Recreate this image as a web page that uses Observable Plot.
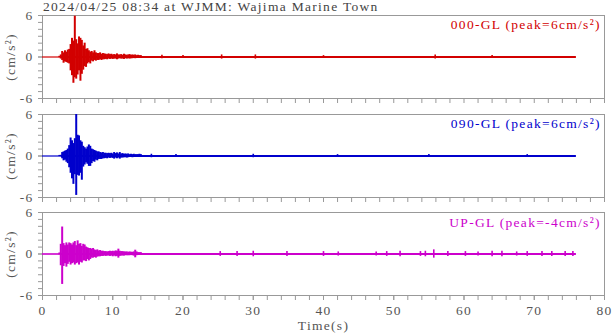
<!DOCTYPE html>
<html><head><meta charset="utf-8">
<script src="https://cdn.jsdelivr.net/npm/d3@7"></script>
<script src="https://cdn.jsdelivr.net/npm/@observablehq/plot@0.6"></script>
<style>
html,body{margin:0;padding:0;background:#fff;}
#chart{position:relative;width:612px;height:334px;overflow:hidden;}
#chart svg{position:absolute;left:0;top:0;}
</style></head><body><div id="chart"></div>
<script>
// ---- data ----
const title = "2024/04/25 08:34 at WJMM: Wajima Marine Town";
const componentNames = ["000-GL", "090-GL", "UP-GL"];
const peakValues = [6, 6, -4];
const seriesColors = ["#d20000", "#0000cc", "#cc00cc"];
const yTickLabels = [-6, 0, 6];
const xTickLabels = [0, 10, 20, 30, 40, 50, 60, 70, 80];
const xLabel = "Time(s)";
const yLabel = "(cm/s²)";
const recordEnd = 76;
const onsets = [2.6, 2.7, 2.5];
// envelope bins (max / min per 0.2 s) from t = 2.4 s to 14.0 s
const binStart = 2.4, binStep = 0.2;
const hi000 = [0.1,0.3,0.8,0.6,0.9,0.7,1.0,1.1,1.8,2.7,2.3,5.9,2.5,1.9,2.9,2.7,2.4,1.6,2.0,1.1,1.2,0.9,0.7,0.8,0.6,0.9,0.6,0.5,0.5,0.6,0.4,0.5,0.45,0.4,0.35,0.45,0.35,0.4,0.3,0.35,0.3,0.45,0.3,0.3,0.35,0.25,0.4,0.3,0.25,0.3,0.35,0.25,0.3,0.25,0.3,0.2,0.25,0.2,0.2];
const lo000 = [-0.1,-0.3,-0.5,-0.9,-0.7,-0.8,-0.9,-1.0,-2.0,-2.7,-3.8,-3.0,-3.2,-2.6,-2.0,-3.5,-2.5,-1.9,-1.4,-1.5,-1.0,-0.8,-1.0,-0.6,-0.7,-0.5,-0.6,-0.5,-0.5,-0.4,-0.5,-0.4,-0.4,-0.35,-0.4,-0.3,-0.35,-0.3,-0.35,-0.3,-0.3,-0.4,-0.3,-0.25,-0.3,-0.3,-0.35,-0.25,-0.3,-0.25,-0.3,-0.25,-0.25,-0.2,-0.25,-0.2,-0.2,-0.2,-0.2];
const hi090 = [0.08,0.1,0.5,0.6,0.7,0.8,1.0,1.5,2.6,2.2,1.8,2.5,6.0,3.0,2.9,2.2,2.0,1.4,1.2,1.0,1.3,1.6,1.4,1.0,0.9,0.8,0.7,0.6,0.6,0.5,0.45,0.5,0.4,0.4,0.35,0.4,0.35,0.4,0.3,0.5,0.35,0.45,0.3,0.5,0.3,0.35,0.25,0.3,0.25,0.3,0.2,0.25,0.2,0.25,0.2,0.2,0.2,0.25,0.2];
const lo090 = [-0.08,-0.1,-0.4,-0.7,-0.6,-0.9,-1.1,-1.7,-2.5,-3.3,-4.1,-2.7,-5.7,-2.8,-2.9,-2.5,-3.5,-1.6,-1.3,-1.0,-1.2,-1.5,-1.5,-1.1,-0.8,-0.9,-0.6,-0.7,-0.5,-0.5,-0.5,-0.4,-0.4,-0.35,-0.4,-0.3,-0.35,-0.3,-0.35,-0.45,-0.3,-0.4,-0.3,-0.45,-0.3,-0.3,-0.25,-0.25,-0.3,-0.25,-0.2,-0.2,-0.25,-0.2,-0.2,-0.2,-0.2,-0.2,-0.2];
const hiUP = [0.15,1.4,3.9,1.5,1.2,1.6,1.3,1.6,1.5,1.3,1.6,1.8,1.2,1.9,1.4,1.5,1.1,1.4,1.3,1.0,0.9,0.8,0.8,0.7,0.8,0.6,0.5,0.6,0.45,0.5,0.4,0.4,0.35,0.35,0.3,0.35,0.4,0.35,0.4,0.35,0.45,0.4,0.7,0.4,0.35,0.35,0.3,0.3,0.3,0.25,0.3,0.25,0.25,0.3,0.55,0.3,0.2,0.2,0.2];
const loUP = [-0.15,-1.7,-4.4,-1.8,-1.4,-1.9,-1.5,-1.2,-1.6,-1.4,-1.3,-1.6,-1.4,-1.3,-1.6,-1.2,-1.3,-1.0,-1.0,-1.1,-0.8,-1.0,-0.8,-0.6,-0.6,-0.5,-0.6,-0.45,-0.4,-0.4,-0.35,-0.35,-0.3,-0.35,-0.3,-0.3,-0.35,-0.3,-0.4,-0.3,-0.4,-0.35,-0.6,-0.35,-0.3,-0.3,-0.3,-0.25,-0.25,-0.25,-0.25,-0.2,-0.25,-0.3,-0.55,-0.25,-0.2,-0.2,-0.2];
// small bursts in the coda (time s, half amplitude)
const burstT000 = [17, 20, 25.5, 30.3, 40, 55.9, 64];
const burstA000 = [0.25, 0.2, 0.3, 0.3, 0.2, 0.3, 0.2];
const burstT090 = [15.5, 19, 30, 42, 55, 69];
const burstA090 = [0.25, 0.2, 0.25, 0.2, 0.2, 0.2];
const burstTUP = [25.3, 27.7, 30, 34.8, 40, 42.1, 47.5, 49, 50.9, 53.8, 54.5, 55.7, 57.7, 60.2, 62, 64, 65.4, 67.5, 69, 71.1, 72.5, 74.4, 75.5];
const burstAUP = [0.35, 0.35, 0.4, 0.35, 0.35, 0.3, 0.3, 0.35, 0.4, 0.35, 0.4, 0.6, 0.35, 0.35, 0.3, 0.4, 0.4, 0.3, 0.35, 0.35, 0.35, 0.35, 0.35];

// ---- build tables ----
const envHi = [hi000, hi090, hiUP], envLo = [lo000, lo090, loUP];
const burstT = [burstT000, burstT090, burstTUP], burstA = [burstA000, burstA090, burstAUP];
function envTable(i) {
  return envHi[i].map((h, k) => ({t: binStart + k * binStep, hi: h, lo: envLo[i][k]}));
}
function burstTable(i) {
  return burstT[i].map((t, k) => ({t, a: burstA[i][k]}));
}

// ---- layout ----
const W = 612, H = 334;
const panelTop = [15, 114, 212], panelBottom = [98, 197, 295];
const labelDy = [8.7, 9.2, 9.7];
const textColor = "#555", frameColor = "#999";
const fontSize = 13.5;

const chart = document.getElementById("chart");
for (let i = 0; i < 3; i++) {
  const color = seriesColors[i];
  const last = i === 2;
  const marks = [
    Plot.frame({stroke: frameColor}),
    Plot.axisY(d3.range(-6, 7, 1), {tickSize: 4, fill: "none", label: null, stroke: frameColor}),
    Plot.axisY(yTickLabels, {tickSize: 4, tickPadding: 5, label: null, stroke: frameColor, fill: textColor, fontSize, tickFormat: d => String(d)}),
    Plot.axisX(d3.range(0, 81, 2), {anchor: "bottom", tickSize: 5, fill: "none", label: null, stroke: frameColor}),
    Plot.ruleY([0], {x1: 0, x2: onsets[i], stroke: color, strokeWidth: i === 2 ? 1.6 : 1.2}),
    Plot.ruleY([0], {x1: onsets[i], x2: recordEnd, stroke: color, strokeWidth: 1.8}),
    Plot.ruleX(envTable(i), {x: "t", y1: "lo", y2: "hi", stroke: color, strokeWidth: 2}),
    Plot.ruleX(burstTable(i), {x: "t", y1: d => -d.a, y2: d => d.a, stroke: color, strokeWidth: 1.6}),
    Plot.text([`${componentNames[i]} (peak=${peakValues[i]}cm/s²)`], {frameAnchor: "top-right", textAnchor: "end", lineAnchor: "middle", dx: -3.7, dy: labelDy[i], fill: color, fontSize}),
    Plot.text([yLabel], {frameAnchor: "left", rotate: -90, textAnchor: "middle", lineAnchor: "middle", dx: -31.5, fill: textColor, fontSize})
  ];
  if (last) {
    marks.push(Plot.axisX(xTickLabels, {anchor: "bottom", tickSize: 5, tickPadding: 5, label: null, stroke: frameColor, fill: textColor, fontSize, tickFormat: d => String(d)}));
    marks.push(Plot.text([xLabel], {frameAnchor: "bottom", lineAnchor: "middle", dy: 29.7, fill: textColor, fontSize}));
  }
  if (i === 0) {
    marks.push(Plot.text([title], {frameAnchor: "top-left", textAnchor: "start", lineAnchor: "middle", dx: 0.5, dy: -8.8, fill: "#444", fontSize}));
  }
  const svg = Plot.plot({
    width: W, height: H,
    marginLeft: 42, marginRight: 8,
    marginTop: panelTop[i], marginBottom: H - panelBottom[i],
    x: {domain: [0, 80]},
    y: {domain: [-6, 6]},
    style: {fontFamily: "'Liberation Serif', 'DejaVu Serif', serif", background: "transparent", color: textColor, letterSpacing: "1.3px", overflow: "visible"},
    marks
  });
  chart.appendChild(svg);
}
</script></body></html>
